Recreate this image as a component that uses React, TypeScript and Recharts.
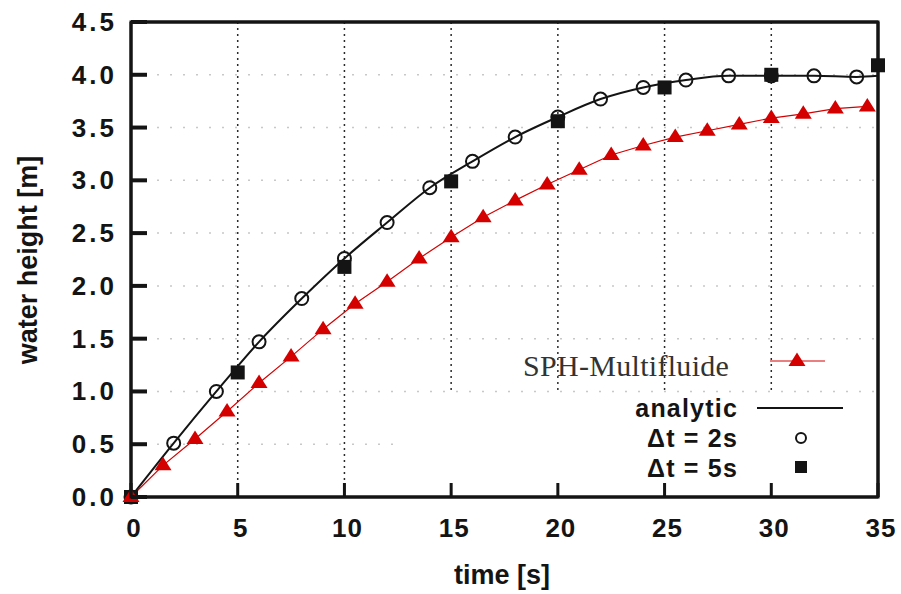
import React from 'react';
import { ComposedChart, Line, XAxis, YAxis, CartesianGrid, ReferenceArea } from 'recharts';

const xTicks = [0, 5, 10, 15, 20, 25, 30, 35];
const xTickLabels = ['0', '5', '10', '15', '20', '25', '30', '35'];
const yTicks = [0, 0.5, 1, 1.5, 2, 2.5, 3, 3.5, 4, 4.5];
const yTickLabels = ['0.0', '0.5', '1.0', '1.5', '2.0', '2.5', '3.0', '3.5', '4.0', '4.5'];

const analyticTime = [0, 2, 4, 6, 8, 10, 12, 14, 16, 18, 20, 22, 24, 26, 28, 30, 32, 34, 35];
const analyticHeight = [0, 0.51, 1.0, 1.47, 1.88, 2.26, 2.6, 2.93, 3.18, 3.41, 3.6, 3.77, 3.88, 3.95, 3.99, 3.99, 3.99, 3.98, 3.99];

const dt2Time = [0, 2, 4, 6, 8, 10, 12, 14, 16, 18, 20, 22, 24, 26, 28, 30, 32, 34];
const dt2Height = [0, 0.51, 1.0, 1.47, 1.88, 2.26, 2.6, 2.93, 3.18, 3.41, 3.6, 3.77, 3.88, 3.95, 3.99, 3.99, 3.99, 3.98];

const dt5Time = [0, 5, 10, 15, 20, 25, 30, 35];
const dt5Height = [0, 1.18, 2.18, 2.99, 3.56, 3.88, 4.0, 4.09];

const sphTime = [0, 1.5, 3, 4.5, 6, 7.5, 9, 10.5, 12, 13.5, 15, 16.5, 18, 19.5, 21, 22.5, 24, 25.5, 27, 28.5, 30, 31.5, 33, 34.5];
const sphHeight = [0, 0.3, 0.55, 0.81, 1.08, 1.33, 1.59, 1.83, 2.04, 2.26, 2.46, 2.65, 2.81, 2.96, 3.1, 3.24, 3.33, 3.41, 3.47, 3.53, 3.59, 3.63, 3.68, 3.7];

const zip = (ts: number[], hs: number[]) => ts.map((t, i) => ({ t, h: hs[i] }));
const analyticData = zip(analyticTime, analyticHeight);
const dt2Data = zip(dt2Time, dt2Height);
const dt5Data = zip(dt5Time, dt5Height);
const sphData = zip(sphTime, sphHeight);

const RED = '#d40000';
const INK = '#141414';
const SANS = '"Liberation Sans", Arial, Helvetica, sans-serif';
const SERIF = '"Liberation Serif", "DejaVu Serif", serif';

const LeftTick = (p: any) => {
  const idx = yTicks.indexOf(p.payload.value);
  return (
    <g>
      <rect x={p.x} y={p.y - 2} width={16} height={4} fill={INK} />
      <text x={p.x - 14} y={p.y} textAnchor="end" dominantBaseline="central" fontFamily={SANS} fontWeight="bold" fontSize={26} fill={INK} letterSpacing={3}>
        {yTickLabels[idx >= 0 ? idx : p.index]}
      </text>
    </g>
  );
};

const RightTick = (p: any) => <rect x={p.x - 17} y={p.y - 2} width={17} height={4} fill={INK} />;

const BottomTick = (p: any) => {
  const idx = xTicks.indexOf(p.payload.value);
  return (
    <g>
      <rect x={p.x - 1.5} y={p.y - 14} width={3} height={14} fill={INK} />
      <text x={p.x + 3} y={p.y + 31} textAnchor="middle" dominantBaseline="central" fontFamily={SANS} fontWeight="bold" fontSize={26} fill={INK} letterSpacing={1}>
        {xTickLabels[idx >= 0 ? idx : p.index]}
      </text>
    </g>
  );
};

const TopTick = (p: any) => <rect x={p.x - 1.5} y={p.y} width={3} height={14} fill={INK} />;

const triPath = (cx: number, cy: number) => `M${cx},${cy - 8.5} L${cx - 8.5},${cy + 5} L${cx + 8.5},${cy + 5} Z`;

const TriangleDot = (props: any) => {
  const { cx, cy, index } = props;
  if (cx == null || cy == null) return <g key={index} />;
  return <path key={index} d={triPath(cx, cy)} fill={RED} stroke="none" />;
};

const CircleDot = (props: any) => {
  const { cx, cy, index } = props;
  if (cx == null || cy == null) return <g key={index} />;
  return <circle key={index} cx={cx} cy={cy} r={6.5} fill="none" stroke={INK} strokeWidth={2} />;
};

const SquareDot = (props: any) => {
  const { cx, cy, index } = props;
  if (cx == null || cy == null) return <g key={index} />;
  return <rect key={index} x={cx - 7} y={cy - 7} width={14} height={14} fill={INK} />;
};

export default function App() {
  return (
    <div style={{ position: 'absolute', left: 0, top: 0, width: 901, height: 594, background: '#fff' }}>
      <ComposedChart width={901} height={594} margin={{ top: 21, right: 22, bottom: 0, left: 0 }}>
        <CartesianGrid xAxisId="b" yAxisId="l" vertical={false} stroke="#c8c8c8" strokeDasharray="2 11" strokeWidth={1.5} />
        <CartesianGrid xAxisId="b" yAxisId="l" horizontal={false} stroke="#2a2a2a" strokeDasharray="2 4" strokeWidth={1.5} />
        <ReferenceArea xAxisId="b" yAxisId="l" x1={12.5} x2={35} y1={0} y2={0.98} fill="#ffffff" fillOpacity={1} stroke="none" />
        <XAxis xAxisId="b" type="number" dataKey="t" domain={[0, 35]} ticks={xTicks} height={97} tickSize={0} tickMargin={0} tickLine={false} tick={<BottomTick />} axisLine={{ stroke: INK, strokeWidth: 3 }} interval={0} />
        <XAxis xAxisId="t" orientation="top" type="number" dataKey="t" domain={[0, 35]} ticks={xTicks} height={1} tickSize={0} tickMargin={0} tickLine={false} tick={<TopTick />} axisLine={{ stroke: INK, strokeWidth: 3 }} interval={0} />
        <YAxis yAxisId="l" type="number" domain={[0, 4.5]} ticks={yTicks} width={131} tickSize={0} tickMargin={0} tickLine={false} tick={<LeftTick />} axisLine={{ stroke: INK, strokeWidth: 3 }} interval={0} />
        <YAxis yAxisId="r" orientation="right" type="number" domain={[0, 4.5]} ticks={yTicks} width={1} tickSize={0} tickMargin={0} tickLine={false} tick={<RightTick />} axisLine={{ stroke: INK, strokeWidth: 3 }} interval={0} />
        <Line xAxisId="b" yAxisId="l" data={analyticData} dataKey="h" type="monotone" stroke={INK} strokeWidth={2} dot={false} isAnimationActive={false} />
        <Line xAxisId="b" yAxisId="l" data={dt2Data} dataKey="h" stroke="none" dot={<CircleDot />} isAnimationActive={false} />
        <Line xAxisId="b" yAxisId="l" data={dt5Data} dataKey="h" stroke="none" dot={<SquareDot />} isAnimationActive={false} />
        <Line xAxisId="b" yAxisId="l" data={sphData} dataKey="h" type="linear" stroke={RED} strokeWidth={1.2} dot={<TriangleDot />} isAnimationActive={false} />
      </ComposedChart>
      <svg width={901} height={594} style={{ position: 'absolute', left: 0, top: 0, pointerEvents: 'none' }}>
        <rect x={131} y={22} width={747} height={475} fill="none" stroke={INK} strokeWidth={3} />
        <text x={28} y={260} transform="rotate(-90, 28, 260)" textAnchor="middle" dominantBaseline="central" fontFamily={SANS} fontWeight="bold" fontSize={27} fill={INK}>water height [m]</text>
        <text x={502} y={575} textAnchor="middle" dominantBaseline="central" fontFamily={SANS} fontWeight="bold" fontSize={27} fill={INK}>time [s]</text>
        <text x={523} y={376} fontFamily={SERIF} fontSize={30} fill="#333" letterSpacing={0.3}>SPH-Multifluide</text>
        <line x1={770} x2={825} y1={361} y2={361} stroke={RED} strokeWidth={1.2} />
        <path d={triPath(797, 361)} fill={RED} />
        <text x={738} y={408} textAnchor="end" dominantBaseline="central" fontFamily={SANS} fontWeight="bold" fontSize={25} fill={INK} letterSpacing={1.2}>analytic</text>
        <line x1={757} x2={843} y1={408} y2={408} stroke={INK} strokeWidth={2} />
        <text x={738} y={438} textAnchor="end" dominantBaseline="central" fontFamily={SANS} fontWeight="bold" fontSize={25} fill={INK} letterSpacing={1.2}>Δt = 2s</text>
        <circle cx={801} cy={438} r={5} fill="none" stroke={INK} strokeWidth={2} />
        <text x={738} y={468} textAnchor="end" dominantBaseline="central" fontFamily={SANS} fontWeight="bold" fontSize={25} fill={INK} letterSpacing={1.2}>Δt = 5s</text>
        <rect x={795} y={461} width={12} height={12} fill={INK} />
      </svg>
    </div>
  );
}
